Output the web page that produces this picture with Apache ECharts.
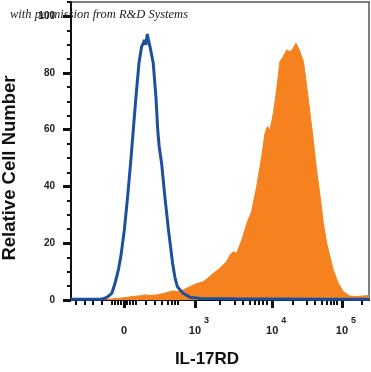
<!DOCTYPE html>
<html>
<head>
<meta charset="utf-8">
<script src="https://cdn.jsdelivr.net/npm/echarts@6/dist/echarts.min.js"></script>
<style>
html,body{margin:0;padding:0;background:#fff;}
#chart{width:371px;height:372px;}
</style>
</head>
<body>
<div id="chart"></div>
<script>
// Display channel (biexponential scale, 0..1000) and relative cell number
const isotypeChannel = [0, 100, 111, 124, 137, 148, 159, 168, 179, 190, 200, 209, 218, 228, 237, 243, 246, 251, 256, 261, 265, 276, 285, 291, 296, 304, 315, 327, 341, 349, 357, 376, 399, 433, 550, 700, 850, 1000];
const isotypeCount   = [0.3, 0.3, 0.5, 1.2, 2.4, 6.0, 10.6, 15.9, 24.7, 36.4, 48.2, 59.9, 71.6, 83.4, 89.3, 90.5, 91.6, 89.9, 93.7, 91.0, 89.3, 83.4, 71.6, 59.9, 54.0, 48.2, 36.4, 24.7, 12.9, 7.8, 4.7, 2.4, 1.0, 0.5, 0.4, 0.35, 0.3, 0.3];

const il17rdChannel = [110, 131, 164, 198, 232, 248, 265, 289, 309, 322, 342, 366, 383, 399, 423, 443, 456, 478, 500, 522, 534, 545, 556, 573, 590, 606, 623, 640, 651, 659, 668, 679, 690, 701, 712, 724, 735, 746, 755, 766, 780, 791, 802, 813, 824, 836, 847, 858, 869, 880, 897, 914, 936, 959, 977, 1000];
const il17rdCount   = [0, 0.35, 0.6, 1.1, 1.5, 1.8, 1.6, 1.8, 2.3, 2.6, 3.2, 2.9, 3.9, 4.7, 5.8, 6.4, 7.4, 9.4, 11.2, 13.5, 15.9, 17.0, 16.5, 21.1, 27.0, 31.1, 39.9, 50.5, 58.7, 61.1, 59.9, 65.8, 74.0, 84.0, 85.7, 88.1, 87.5, 88.7, 90.5, 88.1, 84.0, 75.2, 65.8, 56.4, 45.8, 36.4, 27.0, 20.0, 15.3, 10.6, 5.9, 2.9, 1.4, 1.2, 1.4, 1.6];

const xMajorTicks = [178, 416, 675, 909];
const xMajorExponents = [null, 3, 4, 5];
const xMinorTicks = [17, 47, 74, 104, 138, 148, 158, 168, 188, 198, 208, 218, 252, 282, 305, 326, 339, 349, 359, 500, 550, 577, 601, 617, 631, 644, 658, 745, 792, 819, 842, 859, 872, 883, 893, 976];
const yMajorTicks = [0, 20, 40, 60, 80, 100];
const yMinorTicks = [5, 10, 15, 25, 30, 35, 45, 50, 55, 65, 70, 75, 85, 90, 95, 105];

const FONT = '"Liberation Sans", Arial, sans-serif';
const zip = (a, b) => a.map((v, i) => [v, b[i]]);

const chart = echarts.init(document.getElementById('chart'), null, {renderer: 'canvas'});
chart.setOption({
  animation: false,
  backgroundColor: '#fff',
  grid: {left: 71, right: 2, top: 2, bottom: 72, show: true, borderColor: '#555', borderWidth: 1.5, backgroundColor: 'transparent'},
  xAxis: [{
    type: 'value', min: 0, max: 1000, position: 'bottom',
    axisLine: {show: true, onZero: false, lineStyle: {color: '#111', width: 2}},
    splitLine: {show: false},
    axisTick: {show: true, customValues: xMajorTicks, length: 8, lineStyle: {color: '#111', width: 3}},
    axisLabel: {
      customValues: xMajorTicks, margin: 16, color: '#222',
      formatter: function (v) {
        const i = xMajorTicks.indexOf(v);
        const e = xMajorExponents[i];
        return e == null ? '{b|0}' : '{e|}{b|10}{s|' + e + '}';
      },
      rich: {
        e: {width: 8},
        b: {fontSize: 11, fontWeight: 'bold', fontFamily: FONT, color: '#222', lineHeight: 20, verticalAlign: 'bottom'},
        s: {fontSize: 9, fontWeight: 'bold', fontFamily: FONT, color: '#222', verticalAlign: 'top', padding: [0, 0, 0, 3]}
      }
    }
  }, {
    type: 'value', min: 0, max: 1000, position: 'bottom',
    axisLine: {show: false},
    splitLine: {show: false},
    axisTick: {show: true, customValues: xMinorTicks, length: 5, lineStyle: {color: '#111', width: 2}},
    axisLabel: {show: false}
  }],
  yAxis: [{
    type: 'value', min: 0, max: 105, position: 'left',
    axisLine: {show: true, lineStyle: {color: '#111', width: 2}},
    splitLine: {show: false},
    axisTick: {show: true, customValues: yMajorTicks, length: 8, lineStyle: {color: '#111', width: 3}},
    axisLabel: {customValues: yMajorTicks, margin: 16, fontSize: 10, fontWeight: 'bold', fontFamily: FONT, color: '#222'}
  }, {
    type: 'value', min: 0, max: 105, position: 'left',
    axisLine: {show: false},
    splitLine: {show: false},
    axisTick: {show: true, customValues: yMinorTicks, length: 4, lineStyle: {color: '#111', width: 2}},
    axisLabel: {show: false}
  }],
  series: [{
    name: 'IL-17RD', type: 'line', xAxisIndex: 0, yAxisIndex: 0,
    data: zip(il17rdChannel, il17rdCount),
    showSymbol: false, z: 2,
    lineStyle: {color: '#f5821f', width: 1},
    areaStyle: {color: '#f5821f', opacity: 1}
  }, {
    name: 'Isotype', type: 'line', xAxisIndex: 0, yAxisIndex: 0,
    data: zip(isotypeChannel, isotypeCount),
    showSymbol: false, z: 3,
    lineStyle: {color: '#1e4f9c', width: 3}
  }],
  graphic: [{
    type: 'text', x: 10, y: 15, z: 100,
    style: {text: 'with permission from R&D Systems', font: 'italic 12.5px "Liberation Serif", serif', fill: '#222', textAlign: 'left', textVerticalAlign: 'middle', align: 'left', verticalAlign: 'middle'}
  }, {
    type: 'text', x: 10, y: 168, rotation: Math.PI / 2, z: 100,
    style: {text: 'Relative Cell Number', font: 'bold 18.5px ' + FONT, fill: '#111', textAlign: 'center', textVerticalAlign: 'middle', align: 'center', verticalAlign: 'middle'}
  }, {
    type: 'text', x: 207, y: 359, z: 100,
    style: {text: 'IL-17RD', font: 'bold 17px ' + FONT, fill: '#111', textAlign: 'center', textVerticalAlign: 'middle', align: 'center', verticalAlign: 'middle'}
  }]
});
</script>
</body>
</html>
